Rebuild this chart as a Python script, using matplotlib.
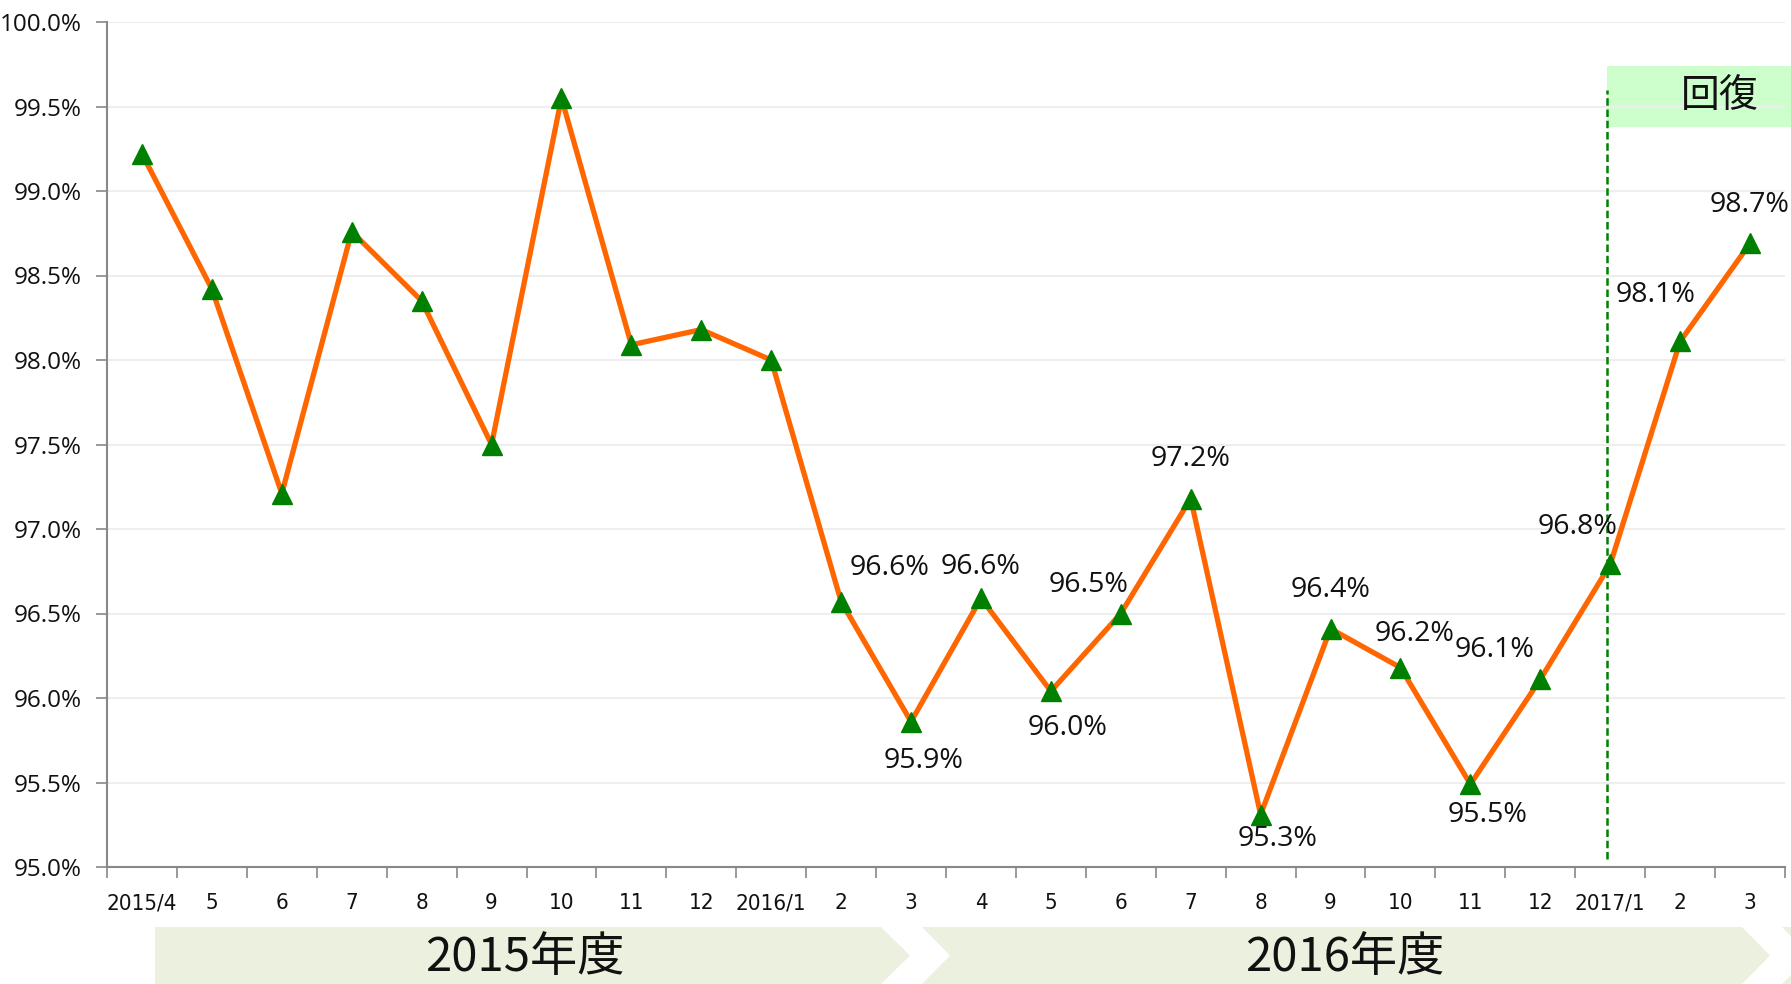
import matplotlib
matplotlib.use("Agg")
import matplotlib.pyplot as plt
from matplotlib.patches import Polygon, Rectangle
from matplotlib.ticker import FuncFormatter, FixedLocator

months = ["2015/4", "5", "6", "7", "8", "9", "10", "11", "12", "2016/1", "2", "3",
          "4", "5", "6", "7", "8", "9", "10", "11", "12", "2017/1", "2", "3"]
values = [99.22, 98.42, 97.21, 98.76, 98.35, 97.50, 99.55, 98.09, 98.18, 98.00,
          96.57, 95.86, 96.59, 96.04, 96.50, 97.18, 95.31, 96.41, 96.18, 95.49,
          96.11, 96.79, 98.11, 98.69]
labeled_from = 10
label_offsets = [(48, 34), (13, -39), (0, 31), (17, -37), (-32, 29), (0, 40),
                 (17, -24), (0, 39), (14, 34), (17, -31), (-46, 29), (-33, 37),
                 (-25, 46), (0, 38)]
fy_names = ["2015年度", "2016年度"]
recovery_text = "回復"

W, H = 1791, 984
fig = plt.figure(figsize=(W / 100, H / 100), dpi=100)
ax = fig.add_axes([107 / W, 1 - 867 / H, (1785 - 107) / W, (867 - 22) / H])

x = list(range(len(months)))
ax.plot(x, values, color="#FF6600", lw=3.8, zorder=3)
ax.plot(x, values, ls="none", marker="^", ms=14, color="#008000", zorder=4)

ax.set_xlim(-0.5, len(months) - 0.5)
ax.set_ylim(95.0, 100.0)

yt = [95.0 + 0.5 * i for i in range(11)]
ax.set_yticks(yt)
ax.yaxis.set_major_formatter(FuncFormatter(lambda v, p: f"{v:.1f}%"))
ax.grid(axis="y", color="#EEEEEE", lw=1.5, zorder=0)

ax.xaxis.set_major_locator(FixedLocator([i - 0.5 for i in range(len(months) + 1)]))
ax.xaxis.set_major_formatter(FuncFormatter(lambda v, p: ""))
ax.xaxis.set_minor_locator(FixedLocator(x))
ax.set_xticklabels(months, minor=True)
ax.tick_params(axis="x", which="minor", length=0, pad=19, labelsize=16)
for t in ax.get_xticklabels(minor=True):
    t.set_family(["DejaVu Sans"])
    t.set_fontstretch("condensed")
    t.set_color("#111111")
ax.tick_params(axis="x", which="major", length=8, width=1.2, color="#888888")
ax.tick_params(axis="y", length=8, width=1.2, color="#888888", labelsize=17.5, pad=10)
for t in ax.get_yticklabels():
    t.set_family(["Open Sans", "DejaVu Sans"])
    t.set_color("#111111")

for s in ["top", "right"]:
    ax.spines[s].set_visible(False)
for s in ["left", "bottom"]:
    ax.spines[s].set_color("#888888")
    ax.spines[s].set_linewidth(1.5)

for k, i in enumerate(range(labeled_from, len(values))):
    dx, dy = label_offsets[k]
    ax.annotate(f"{values[i]:.1f}%", (x[i], values[i]), xytext=(dx, dy),
                textcoords="offset pixels", ha="center", va="center",
                fontsize=20.5, family=["Open Sans", "DejaVu Sans"], color="#111111",
                zorder=5)

# recovery marker line and box
xline = 20.95
ax.plot([xline, xline], [95.05, 99.6], color="#008000", lw=1.8, ls=(0, (3, 1.5)),
        zorder=2)
ax.add_patch(Rectangle((xline, 99.38), 3.0, 0.36, facecolor="#CCFFCC",
                       edgecolor="none", clip_on=False, zorder=1))
ax.text(22.56, 99.56, recovery_text, ha="center", va="center", fontsize=28,
        family=["Noto Sans CJK JP", "DejaVu Sans"], color="#111111")

# fiscal year chevrons (figure pixel coords)
def fig_pt(px, py):
    return (px / W, 1 - py / H)

top, bot, mid = 927, 984, 955.5
chev_color = "#ECF0DF"
shapes = [
    [(155, top), (881, top), (910, mid), (881, bot), (155, bot)],
    [(922, top), (1742, top), (1770, mid), (1742, bot), (922, bot), (950, mid)],
    [(1782, top), (1830, top), (1830, bot), (1782, bot), (1810, mid)],
]
for shp in shapes:
    fig.patches.append(Polygon([fig_pt(*p) for p in shp], closed=True,
                               transform=fig.transFigure, facecolor=chev_color,
                               edgecolor="none"))
fy_centers = [525, 1345]
for name, cx in zip(fy_names, fy_centers):
    fig.text(cx / W, 1 - 958 / H, name, ha="center", va="center", fontsize=34,
             family=["Noto Sans CJK JP", "DejaVu Sans"], color="#111111")

fig.savefig("out.png", dpi=100)
